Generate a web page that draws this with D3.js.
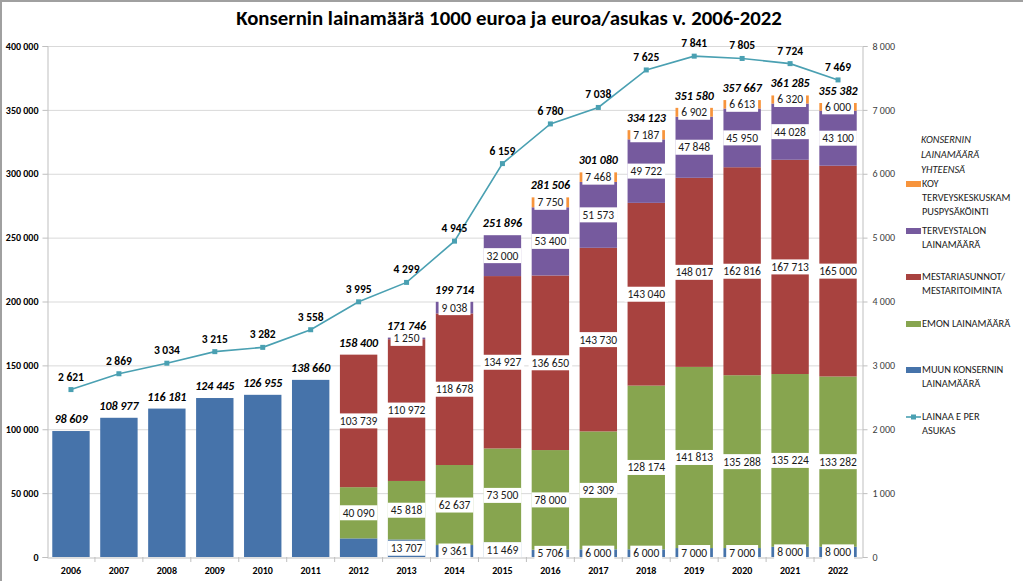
<!DOCTYPE html>
<html><head><meta charset="utf-8">
<script src="https://cdn.jsdelivr.net/npm/d3@7"></script>
<style>
body{margin:0;background:#fff;}
text{font-family:Carlito,Lato,"Liberation Sans",sans-serif;}
</style></head>
<body><svg id="c" width="1023" height="581"></svg>
<script>
const years = ["2006","2007","2008","2009","2010","2011","2012","2013","2014","2015","2016","2017","2018","2019","2020","2021","2022"];
const muun = [98609,108977,116181,124445,126955,138660,14571,13707,9361,11469,5706,6000,6000,7000,7000,8000,8000];
const emon = [0,0,0,0,0,0,40090,45818,62637,73500,78000,92309,128174,141813,135288,135224,133282];
const mestari = [0,0,0,0,0,0,103739,110972,118678,134927,136650,143730,143040,148017,162816,167713,165000];
const terveys = [0,0,0,0,0,0,0,1250,9038,32000,53400,51573,49722,47848,45950,44028,43100];
const koy = [0,0,0,0,0,0,0,0,0,0,7750,7468,7187,6902,6613,6320,6000];
const totals = [98609,108977,116181,124445,126955,138660,158400,171746,199714,251896,281506,301080,334123,351580,357667,361285,355382];
const perAsukas = [2621,2869,3034,3215,3282,3558,3995,4299,4945,6159,6780,7038,7625,7841,7805,7724,7469];
const leftTicks = [0,50000,100000,150000,200000,250000,300000,350000,400000];
const rightTicks = [0,1000,2000,3000,4000,5000,6000,7000,8000];
const title = "Konsernin lainamäärä 1000 euroa ja euroa/asukas v. 2006-2022";
// label visibility per series (first years are shown only as totals)
const labelFrom = {muun:7, emon:6, mestari:6, terveys:7, koy:10};

const series = [
  {key:"muun", vals:muun, color:"#4673aa", name:["MUUN KONSERNIN","LAINAMÄÄRÄ"]},
  {key:"emon", vals:emon, color:"#87a54f", name:["EMON LAINAMÄÄRÄ"]},
  {key:"mestari", vals:mestari, color:"#a8423f", name:["MESTARIASUNNOT/","MESTARITOIMINTA"]},
  {key:"terveys", vals:terveys, color:"#765a9e", name:["TERVEYSTALON","LAINAMÄÄRÄ"]},
  {key:"koy", vals:koy, color:"#f7943c", name:["KOY","TERVEYSKESKUSKAM","PUSPYSÄKÖINTI"]}
];
const lineColor = "#4aa0b2";
const fmt = v => d3.format(",")(v).replace(/,/g," ");

const svg = d3.select("#c");
// frame edges
svg.append("line").attr("x1",0).attr("x2",1023).attr("y1",1).attr("y2",1).attr("stroke","#a0a0a0").attr("stroke-width",2);
svg.append("line").attr("x1",1).attr("x2",1).attr("y1",0).attr("y2",581).attr("stroke","#a0a0a0").attr("stroke-width",2);

const x = d3.scaleBand().domain(years).range([47,862]).paddingInner(0.22).paddingOuter(0.11);
const yL = d3.scaleLinear().domain([0,400000]).range([557,46]);
const yR = d3.scaleLinear().domain([0,8000]).range([557,46]);

// gridlines
svg.append("g").selectAll("line").data(leftTicks.slice(1)).join("line")
  .attr("x1",47).attr("x2",862).attr("y1",d=>yL(d)+0.5).attr("y2",d=>yL(d)+0.5)
  .attr("stroke","#d9d9d9").attr("stroke-width",1);

// left axis
const gl = svg.append("g").attr("transform","translate(47.5,0)")
  .call(d3.axisLeft(yL).tickValues(leftTicks).tickFormat(fmt).tickSize(5).tickPadding(4));
gl.select(".domain").attr("stroke","#bfbfbf");
gl.selectAll(".tick line").attr("stroke","#bfbfbf");
gl.selectAll("text").attr("font-size",10).attr("font-weight","bold").attr("fill","#000");

// right axis
const gr = svg.append("g").attr("transform","translate(862.5,0)")
  .call(d3.axisRight(yR).tickValues(rightTicks).tickFormat(fmt).tickSize(5).tickPadding(5));
gr.select(".domain").attr("stroke","#bfbfbf");
gr.selectAll(".tick line").attr("stroke","#bfbfbf");
gr.selectAll("text").attr("font-size",10).attr("fill","#404040");

// bottom axis
const gb = svg.append("g").attr("transform","translate(0,557.5)")
  .call(d3.axisBottom(x).tickSize(0).tickPadding(9));
gb.select(".domain").attr("stroke","#bfbfbf");
gb.selectAll("text").attr("font-size",10).attr("font-weight","bold").attr("fill","#000");
svg.append("g").selectAll("line").data(years.slice(1)).join("line")
  .attr("x1",d=>x(d)-x.step()*x.paddingInner()/2).attr("x2",d=>x(d)-x.step()*x.paddingInner()/2)
  .attr("y1",557).attr("y2",562).attr("stroke","#bfbfbf");

// stacked bars
const stackData = years.map((y,i)=>{const o={year:y}; series.forEach(s=>o[s.key]=s.vals[i]); return o;});
const stacked = d3.stack().keys(series.map(s=>s.key))(stackData);
const gBars = svg.append("g");
stacked.forEach((layer,li)=>{
  gBars.selectAll(null).data(layer).join("rect")
    .attr("x",d=>x(d.data.year)).attr("width",x.bandwidth())
    .attr("y",d=>yL(d[1])).attr("height",d=>yL(d[0])-yL(d[1]))
    .attr("fill",series[li].color);
});

// segment labels
const gLab = svg.append("g");
stacked.forEach((layer,li)=>{
  const s = series[li];
  layer.forEach((d,i)=>{
    if(i < labelFrom[s.key]) return;
    const v = d[1]-d[0]; if(!v) return;
    const cx = x(d.data.year)+x.bandwidth()/2;
    const cy = (yL(d[0])+yL(d[1]))/2;
    const g = gLab.append("g");
    const t = g.append("text").attr("x",cx).attr("y",cy+4).attr("text-anchor","middle")
      .attr("font-size",11.5).attr("fill","#1a1a1a").text(fmt(v));
    const w = t.node().getComputedTextLength();
    g.insert("rect","text").attr("x",cx-w/2-3).attr("y",cy-7.5).attr("width",w+6).attr("height",15).attr("fill","#fff");
  });
});

// totals
svg.append("g").selectAll("text").data(totals).join("text")
  .attr("x",(d,i)=>x(years[i])+x.bandwidth()/2).attr("y",d=>yL(d)-8)
  .attr("text-anchor","middle").attr("font-size",12).attr("font-weight","bold").attr("font-style","italic")
  .attr("fill","#000").text(fmt);

// line
const cxOf = i => x(years[i])+x.bandwidth()/2;
svg.append("path").datum(perAsukas)
  .attr("d",d3.line().x((d,i)=>cxOf(i)).y(d=>yR(d)))
  .attr("fill","none").attr("stroke",lineColor).attr("stroke-width",1.6);
svg.append("g").selectAll("rect").data(perAsukas).join("rect")
  .attr("x",(d,i)=>cxOf(i)-2.5).attr("y",d=>yR(d)-2.5).attr("width",5).attr("height",5).attr("fill",lineColor);
svg.append("g").selectAll("text").data(perAsukas).join("text")
  .attr("x",(d,i)=>cxOf(i)).attr("y",d=>yR(d)-9)
  .attr("text-anchor","middle").attr("font-size",11.5).attr("font-weight","bold").attr("fill","#000").text(fmt);

// title
svg.append("text").attr("x",509).attr("y",25).attr("text-anchor","middle")
  .attr("font-size",20.8).attr("font-weight","bold").attr("fill","#000").text(title);

// legend
const lg = svg.append("g").attr("font-size",10.4).attr("fill","#222");
["KONSERNIN","LAINAMÄÄRÄ","YHTEENSÄ"].forEach((t,i)=>
  lg.append("text").attr("x",921).attr("y",143+i*15).attr("font-style","italic").text(t));
const legendY = {koy:187, terveys:234, mestari:280, emon:327, muun:373};
series.forEach(s=>{
  const y0 = legendY[s.key];
  lg.append("rect").attr("x",906).attr("y",y0-6).attr("width",15).attr("height",6).attr("fill",s.color);
  s.name.forEach((t,i)=>lg.append("text").attr("x",922).attr("y",y0+i*14).text(t));
});
lg.append("line").attr("x1",906).attr("x2",921).attr("y1",417).attr("y2",417).attr("stroke",lineColor).attr("stroke-width",1.6);
lg.append("rect").attr("x",911).attr("y",414.5).attr("width",5).attr("height",5).attr("fill",lineColor);
["LAINAA E PER","ASUKAS"].forEach((t,i)=>lg.append("text").attr("x",922).attr("y",420+i*14).text(t));
</script></body></html>
